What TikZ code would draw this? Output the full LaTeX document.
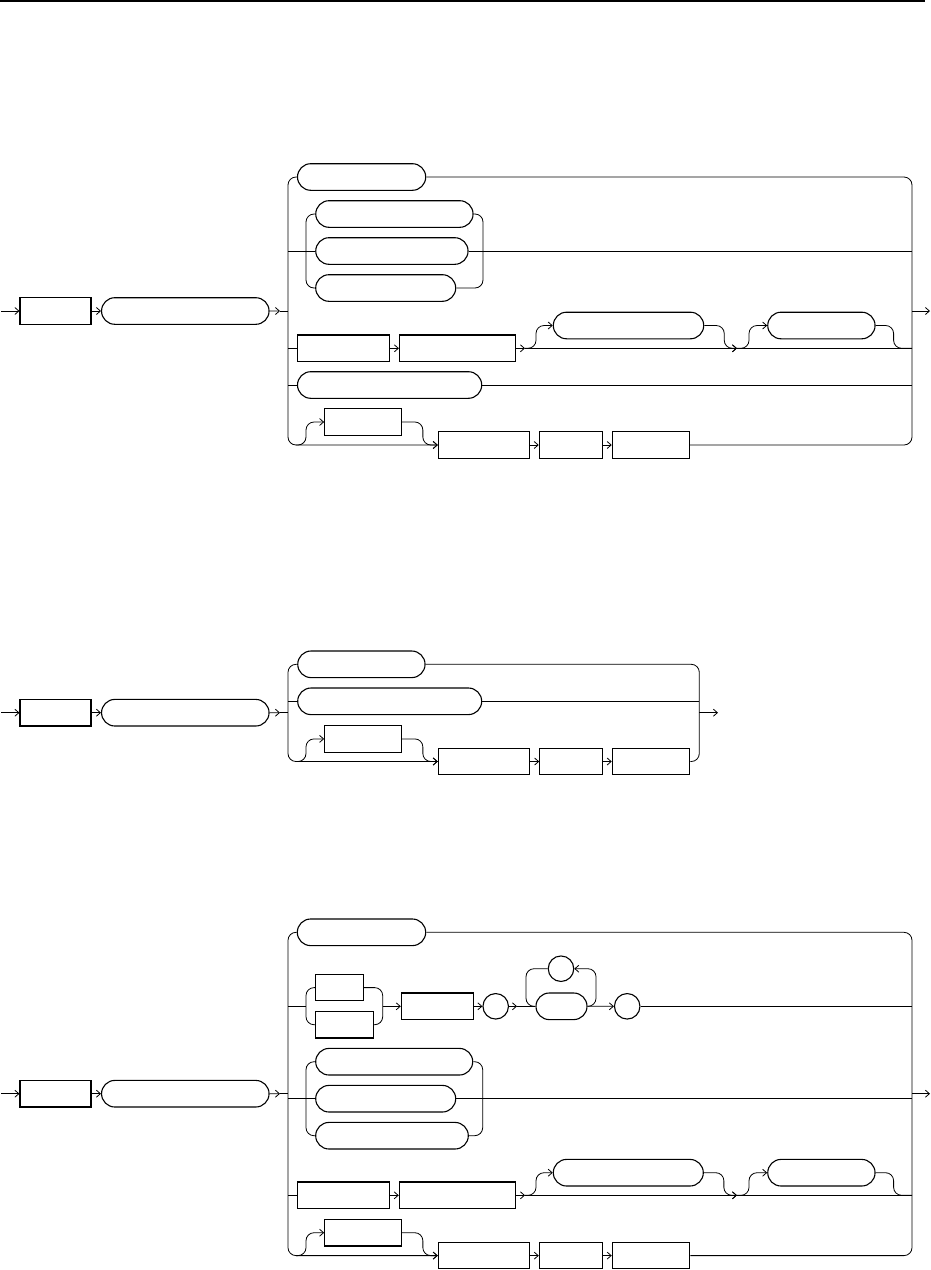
\documentclass[tikz,border=0pt]{standalone}
\usepackage{tikz}
\usetikzlibrary{arrows.meta, shapes.misc}

\tikzset{
  nt/.style={draw, rectangle, line width=1.1pt, minimum height=26.6, inner sep=0pt},
  kw/.style={draw, rounded rectangle, line width=1.1pt, minimum height=26.6, inner sep=0pt},
  sym/.style={draw, circle, line width=1.1pt, minimum size=25.5, inner sep=0pt},
  rail/.style={line width=0.8pt},
  ar/.style={rail, -{Straight Barb[length=4pt,width=7pt]}},
  bus/.style={rail, rounded corners=8pt},
}

\begin{document}
\begin{tikzpicture}[x=1pt, y=-1pt]
            \useasboundingbox (0,0) rectangle (931,1270);
            \draw[line width=1.3pt] (0,1) -- (925,1);

            % Define nodes (first diagram)
            \coordinate (1in) at (1,311);
            \node[nt, minimum width=71] (1a) at (55.5,311) {};
            \node[kw, minimum width=167.5] (1b) at (185.3,311) {};
            \coordinate (1j) at (280,311);
            \coordinate (1l) at (288,311);
            \coordinate (1r) at (912,311);
            \coordinate (1out) at (930,311);
            \node[kw, minimum width=128.2] (1c) at (361.6,177) {};
            \node[kw, minimum width=157.3] (1d1) at (394.4,214) {};
            \node[kw, minimum width=152.3] (1d2) at (391.9,251) {};
            \node[kw, minimum width=140] (1d3) at (385.7,288) {};
            \coordinate (1l2) at (288,251);
            \coordinate (1g) at (306,251);
            \coordinate (1h) at (483,251);
            \coordinate (1r2) at (912,251);
            \node[nt, minimum width=91.5] (1e1) at (343.3,348.3) {};
            \node[nt, minimum width=115.8] (1e2) at (457.4,348.3) {};
            \node[kw, minimum width=150.4] (1f1) at (628.5,325.5) {};
            \node[kw, minimum width=107.3] (1f2) at (821.4,325.5) {};
            \coordinate (1l3) at (288,348.3);
            \coordinate (1s1) at (525,348.3);
            \coordinate (1s2) at (737,348.3);
            \coordinate (1r3) at (912,348.3);
            \node[kw, minimum width=184.2] (1k) at (389.6,385) {};
            \coordinate (1l4) at (288,385);
            \coordinate (1r4) at (912,385);
            \node[nt, minimum width=76.6] (1m) at (363,422) {};
            \node[nt, minimum width=90.7] (1n1) at (483.7,445) {};
            \node[nt, minimum width=63] (1n2) at (570.8,445) {};
            \node[nt, minimum width=77] (1n3) at (650.8,445) {};
            \coordinate (1s5) at (296,445);
            \coordinate (1bl) at (288,445);
            \coordinate (1br) at (912,445);

            % Draw edges (first diagram)
            \draw[ar] (1in) -- (1a);
            \draw[ar] (1a) -- (1b);
            \draw[ar] (1b) -- (1j);
            \draw[rail] (1j) -- (1l);
            \draw[ar] (1r) -- (1out);
            \draw[ar, bus] (1c.west) -| (1bl) -- (1n1.west);
            \draw[bus] (1c.east) -| (1br) -- (1n3.east);
            \draw[rail] (1l2) -- (1d2.west);
            \draw[bus] (1d1.west) -| (1g) |- (1d3.west);
            \draw[bus] (1d1.east) -| (1h) |- (1d3.east);
            \draw[rail] (1d2.east) -- (1r2);
            \draw[rail] (1l3) -- (1e1.west);
            \draw[ar] (1e1) -- (1e2);
            \draw[ar] (1e2) -- (1s1);
            \draw[ar] (1s1) -- (1s2);
            \draw[rail] (1s2) -- (1r3);
            \draw[ar, bus] (1s1) -- ++(11,0) |- (1f1.west);
            \draw[ar, bus] (1f1.east) -- ++(20,0) |- (1s2);
            \draw[ar, bus] (1s2) -- ++(12,0) |- (1f2.west);
            \draw[bus] (1f2.east) -- ++(18,0) |- (1r3);
            \draw[rail] (1l4) -- (1k.west);
            \draw[rail] (1k.east) -- (1r4);
            \draw[ar, bus] (1s5) -- ++(10,0) |- (1m.west);
            \draw[ar, bus] (1m.east) -- ++(21,0) |- (1n1.west);
            \draw[ar] (1n1) -- (1n2);
            \draw[ar] (1n2) -- (1n3);

            % Define nodes (second diagram)
            \coordinate (2in) at (1,712.7);
            \node[nt, minimum width=71] (2a) at (55.5,712.7) {};
            \node[kw, minimum width=167.5] (2b) at (185.3,712.7) {};
            \coordinate (2j) at (280,712.7);
            \coordinate (2l) at (288,712.7);
            \coordinate (2r) at (699.3,712.7);
            \coordinate (2out) at (718,712.7);
            \node[kw, minimum width=127.3] (2c) at (361.4,664.3) {};
            \node[kw, minimum width=184] (2k) at (389.7,701.3) {};
            \coordinate (2l2) at (288,701.3);
            \coordinate (2r2) at (699.3,701.3);
            \node[nt, minimum width=76.6] (2m) at (363,738.9) {};
            \node[nt, minimum width=90.7] (2n1) at (483.7,761.5) {};
            \node[nt, minimum width=62.3] (2n2) at (570.9,761.5) {};
            \node[nt, minimum width=77.4] (2n3) at (651,761.5) {};
            \coordinate (2s5) at (296,761.5);
            \coordinate (2bl) at (288,761.5);
            \coordinate (2br) at (699.3,761.5);

            % Draw edges (second diagram)
            \draw[ar] (2in) -- (2a);
            \draw[ar] (2a) -- (2b);
            \draw[ar] (2b) -- (2j);
            \draw[rail] (2j) -- (2l);
            \draw[ar] (2r) -- (2out);
            \draw[ar, bus] (2c.west) -| (2bl) -- (2n1.west);
            \draw[bus] (2c.east) -| (2br) -- (2n3.east);
            \draw[rail] (2l2) -- (2k.west);
            \draw[rail] (2k.east) -- (2r2);
            \draw[ar, bus] (2s5) -- ++(10,0) |- (2m.west);
            \draw[ar, bus] (2m.east) -- ++(21,0) |- (2n1.west);
            \draw[ar] (2n1) -- (2n2);
            \draw[ar] (2n2) -- (2n3);

            % Define nodes (third diagram)
            \coordinate (3in) at (1,1093.7);
            \node[nt, minimum width=71] (3a) at (55.5,1093.7) {};
            \node[kw, minimum width=167.5] (3b) at (185.3,1093.7) {};
            \coordinate (3j) at (280,1093.7);
            \coordinate (3l) at (288,1093.7);
            \coordinate (3r) at (912,1093.7);
            \coordinate (3out) at (930,1093.7);
            \node[kw, minimum width=128.4] (3c) at (361.5,932.3) {};
            \node[nt, minimum width=47.3] (3d1) at (339.4,987.6) {};
            \node[nt, minimum width=57.3] (3d2) at (344.4,1024.7) {};
            \coordinate (3l2) at (288,1006.3);
            \coordinate (3g) at (306,1006.3);
            \coordinate (3h) at (382.7,1006.3);
            \node[nt, minimum width=71.7] (3e) at (437.2,1006.3) {};
            \node[sym] (3o1) at (495.7,1006.3) {};
            \coordinate (3j2) at (517,1006.3);
            \node[kw, minimum width=51] (3p) at (561.5,1006.3) {};
            \node[sym] (3o2) at (561,968.7) {};
            \node[sym] (3o3) at (627.2,1006.3) {};
            \coordinate (3u) at (596,968.7);
            \coordinate (3v) at (526,1006.3);
            \coordinate (3r2) at (912,1006.3);
            \node[kw, minimum width=157] (3f1) at (394.2,1061.7) {};
            \node[kw, minimum width=140] (3f2) at (385.7,1098.7) {};
            \node[kw, minimum width=152.6] (3f3) at (392,1135.7) {};
            \coordinate (3l3) at (288,1098.7);
            \coordinate (3g3) at (306,1098.7);
            \coordinate (3h3) at (482.7,1098.7);
            \coordinate (3r3) at (912,1098.7);
            \node[nt, minimum width=92] (3k1) at (343.3,1195.3) {};
            \node[nt, minimum width=116] (3k2) at (457.3,1195.3) {};
            \node[kw, minimum width=150] (3q1) at (628.3,1172.7) {};
            \node[kw, minimum width=107.3] (3q2) at (821.4,1172.7) {};
            \coordinate (3l4) at (288,1195.3);
            \coordinate (3s1) at (525,1195.3);
            \coordinate (3s2) at (737,1195.3);
            \coordinate (3r4) at (912,1195.3);
            \node[nt, minimum width=76.6] (3m) at (363,1232.7) {};
            \node[nt, minimum width=91] (3n1) at (483.8,1255.6) {};
            \node[nt, minimum width=62.7] (3n2) at (570.7,1255.6) {};
            \node[nt, minimum width=77.4] (3n3) at (651,1255.6) {};
            \coordinate (3s5) at (296,1255.6);
            \coordinate (3bl) at (288,1255.6);
            \coordinate (3br) at (912,1255.6);

            % Draw edges (third diagram)
            \draw[ar] (3in) -- (3a);
            \draw[ar] (3a) -- (3b);
            \draw[ar] (3b) -- (3j);
            \draw[rail] (3j) -- (3l);
            \draw[ar] (3r) -- (3out);
            \draw[ar, bus] (3c.west) -| (3bl) -- (3n1.west);
            \draw[bus] (3c.east) -| (3br) -- (3n3.east);
            \draw[rail] (3l2) -- (3g);
            \draw[bus] (3d1.west) -| (3g) |- (3d2.west);
            \draw[bus] (3d1.east) -| (3h) |- (3d2.east);
            \draw[ar] (3h) -- (3e);
            \draw[ar] (3e) -- (3o1);
            \draw[ar] (3o1) -- (3j2);
            \draw[rail] (3j2) -- (3p);
            \draw[ar, bus] (3p.east) -| (3u) -- (3o2.east);
            \draw[bus] (3o2.west) -| (3v) -- (3p.west);
            \draw[ar] (3p) -- (3o3);
            \draw[rail] (3o3) -- (3r2);
            \draw[rail] (3l3) -- (3f2.west);
            \draw[bus] (3f1.west) -| (3g3) |- (3f3.west);
            \draw[bus] (3f1.east) -| (3h3) |- (3f3.east);
            \draw[rail] (3f2.east) -- (3r3);
            \draw[rail] (3l4) -- (3k1.west);
            \draw[ar] (3k1) -- (3k2);
            \draw[ar] (3k2) -- (3s1);
            \draw[ar] (3s1) -- (3s2);
            \draw[rail] (3s2) -- (3r4);
            \draw[ar, bus] (3s1) -- ++(11,0) |- (3q1.west);
            \draw[ar, bus] (3q1.east) -- ++(20,0) |- (3s2);
            \draw[ar, bus] (3s2) -- ++(12,0) |- (3q2.west);
            \draw[bus] (3q2.east) -- ++(18,0) |- (3r4);
            \draw[ar, bus] (3s5) -- ++(10,0) |- (3m.west);
            \draw[ar, bus] (3m.east) -- ++(21,0) |- (3n1.west);
            \draw[ar] (3n1) -- (3n2);
            \draw[ar] (3n2) -- (3n3);

        \end{tikzpicture}
\end{document}
